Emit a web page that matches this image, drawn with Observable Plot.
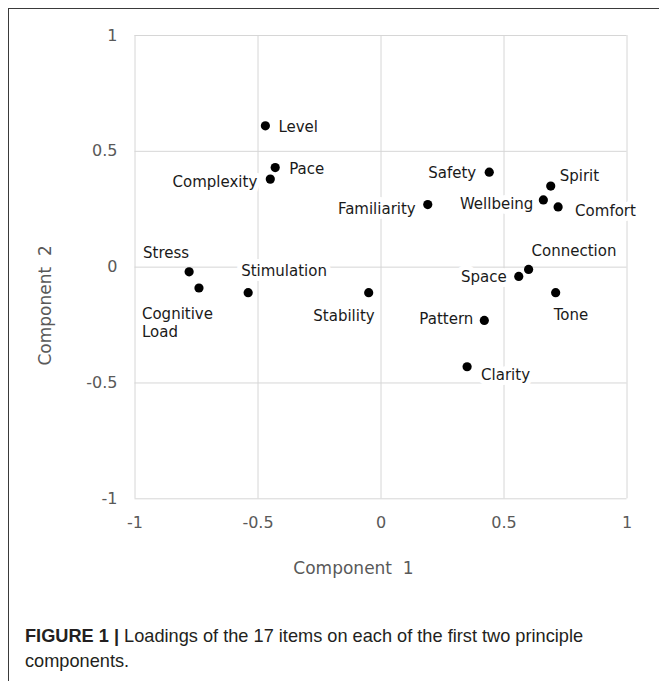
<!DOCTYPE html>
<html>
<head>
<meta charset="utf-8">
<script src="https://cdn.jsdelivr.net/npm/d3@7"></script>
<script src="https://cdn.jsdelivr.net/npm/@observablehq/plot@0.6"></script>
<style>
  html, body { margin: 0; padding: 0; background: #fff; }
  #fig { position: relative; width: 659px; height: 681px; overflow: hidden; background: #fff; }
  #frame { position: absolute; left: 8px; top: 8px; right: -10px; bottom: -10px;
           border-left: 1.5px solid #3a3a3a; border-top: 1.5px solid #3a3a3a; }
  #chart { position: absolute; left: 0; top: 0; }
  #caption { position: absolute; left: 25px; top: 624px; width: 630px;
             font-family: "Liberation Sans", Arial, sans-serif; font-size: 18.2px;
             line-height: 25px; color: #231f20; }
  #caption b { font-weight: bold; }
</style>
</head>
<body>
<div id="fig">
  <div id="frame"></div>
  <div id="chart"></div>
  <div id="caption"><b>FIGURE 1 |</b> Loadings of the 17 items on each of the first two principle<br>components.</div>
</div>
<script>
// Item loadings on the first two principal components
const items = ["Level", "Pace", "Complexity", "Safety", "Spirit", "Wellbeing", "Comfort",
  "Familiarity", "Stress", "Cognitive\nLoad", "Stimulation", "Stability", "Connection",
  "Space", "Tone", "Pattern", "Clarity"];
const component1 = [-0.47, -0.43, -0.45, 0.44, 0.69, 0.66, 0.72, 0.19, -0.78, -0.74,
  -0.54, -0.05, 0.60, 0.56, 0.71, 0.42, 0.35];
const component2 = [0.61, 0.43, 0.38, 0.41, 0.35, 0.29, 0.26, 0.27, -0.02, -0.09,
  -0.11, -0.11, -0.01, -0.04, -0.11, -0.23, -0.43];
const axisTicks = [-1, -0.5, 0, 0.5, 1];

// Where each label sits relative to its point: [textAnchor, dx, dy]
const labelPlacement = [
  ["start", 13, 0], ["start", 14, 1], ["end", -13, 2], ["end", -13, 0],
  ["start", 9, -11], ["end", -10, 3], ["start", 17, 3], ["end", -12, 4],
  ["end", 0, -20], ["start", -57, 34], ["start", -7, -22], ["end", 6, 23],
  ["start", 3, -19], ["end", -12, 0], ["start", -2, 22], ["end", -11, -2],
  ["start", 14, 7]
];

const rows = items.map((name, i) => ({name, c1: component1[i], c2: component2[i]}));

const labelMarks = rows.map((d, i) => {
  const [anchor, dx, dy] = labelPlacement[i];
  return Plot.text([d], {
    x: "c1", y: "c2", text: "name",
    textAnchor: anchor, dx, dy,
    lineHeight: 1.2,
    fontSize: 15,
    fill: "#1a1a1a",
    stroke: "white", strokeWidth: 10, strokeLinejoin: "round"
  });
});

const grey = "#595959";

const chart = Plot.plot({
  width: 659,
  height: 600,
  marginLeft: 134.5,
  marginRight: 32.5,
  marginTop: 35,
  marginBottom: 101.7,
  style: {fontFamily: "'DejaVu Sans', Verdana, sans-serif", fontSize: "15px", background: "transparent"},
  x: {domain: [-1, 1]},
  y: {domain: [-1, 1]},
  marks: [
    Plot.gridX(axisTicks, {stroke: "#d6d6d6", strokeOpacity: 1, strokeWidth: 1}),
    Plot.gridY(axisTicks, {stroke: "#d6d6d6", strokeOpacity: 1, strokeWidth: 1}),
    Plot.axisX(axisTicks, {tickSize: 0, tickPadding: 18, tickFormat: d => `${d}`,
      fontSize: 16, fill: grey, label: null}),
    Plot.axisY(axisTicks, {tickSize: 0, tickPadding: 17.5, tickFormat: d => `${d}`,
      fontSize: 16, fill: grey, label: null}),
    Plot.text(["Component  1"], {frameAnchor: "bottom", dx: -27.5, dy: 70,
      textAnchor: "middle", lineAnchor: "middle", fontSize: 17, fill: grey}),
    Plot.text(["Component  2"], {frameAnchor: "left", rotate: -90, dx: -89.5, dy: 38.3,
      textAnchor: "middle", lineAnchor: "middle", fontSize: 17, fill: grey}),
    ...labelMarks,
    Plot.dot(rows, {x: "c1", y: "c2", r: 4.6, fill: "#000", stroke: "none"})
  ]
});

document.getElementById("chart").appendChild(chart);
</script>
</body>
</html>
